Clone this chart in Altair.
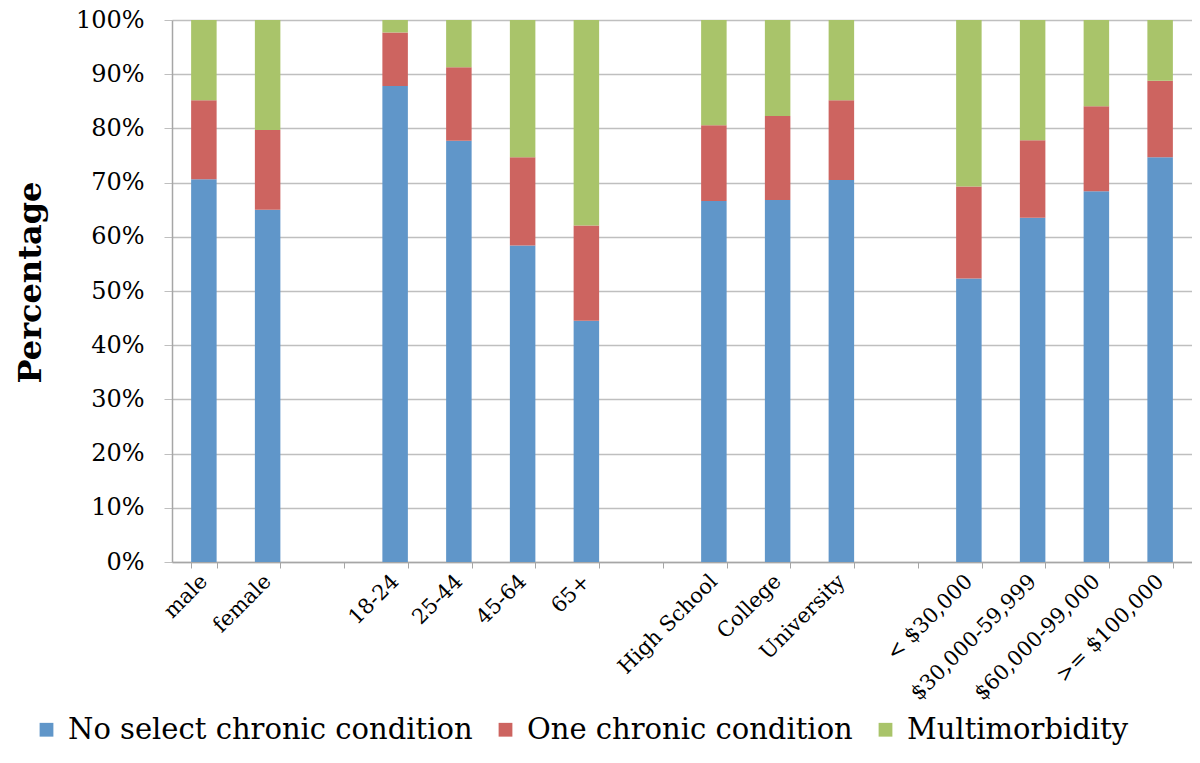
import altair as alt
import pandas as pd

categories = ["male", "female", " ", "18-24", "25-44", "45-64", "65+", "  ",
              "High School", "College", "University", "   ",
              "< $30,000", "$30,000-59,999", "$60,000-99,000", ">= $100,000"]
bar_cats = ["male", "female", "18-24", "25-44", "45-64", "65+",
            "High School", "College", "University",
            "< $30,000", "$30,000-59,999", "$60,000-99,000", ">= $100,000"]
no_condition = [70.6, 65.0, 87.8, 77.7, 58.4, 44.5, 66.6, 66.8, 70.5, 52.3, 63.5, 68.4, 74.7]
one_condition = [14.6, 14.7, 9.9, 13.6, 16.3, 17.6, 14.0, 15.5, 14.7, 17.0, 14.3, 15.7, 14.1]
multimorbidity = [14.8, 20.3, 2.3, 8.7, 25.3, 37.9, 19.4, 17.7, 14.8, 30.7, 22.2, 15.9, 11.2]
series = ["No select chronic condition", "One chronic condition", "Multimorbidity"]
colors = ["#6096C9", "#CD6460", "#A9C46A"]

rows = []
for i, c in enumerate(bar_cats):
    for k, (s, vals) in enumerate(zip(series, [no_condition, one_condition, multimorbidity])):
        rows.append({"cat": c, "series": s, "value": vals[i], "idx": k})
df = pd.DataFrame(rows)

FONT = "DejaVu Serif"

chart = alt.Chart(df).mark_bar().encode(
    x=alt.X("cat:N", sort=categories,
            scale=alt.Scale(domain=categories, paddingInner=0.6, paddingOuter=0.3),
            axis=alt.Axis(title=None, labelAngle=-45, labelAlign="right", labelBaseline="middle",
                          labelFont=FONT, labelFontSize=21, labelColor="#000000",
                          labelPadding=10, tickBand="extent", tickSize=6, tickColor="#A6A6A6",
                          domainColor="#A6A6A6", domainWidth=1.5, grid=False, labelOverlap=False)),
    y=alt.Y("value:Q", stack="zero",
            scale=alt.Scale(domain=[0, 100], nice=False),
            axis=alt.Axis(title="Percentage", values=list(range(0, 101, 10)),
                          labelExpr="datum.value + '%'",
                          labelFont=FONT, labelFontSize=24, labelColor="#000000",
                          labelPadding=20, tickSize=8, tickColor="#BFBFBF",
                          domainColor="#A6A6A6", domainWidth=1.5,
                          gridColor="#BFBFBF", gridWidth=1.5,
                          titleFont=FONT, titleFontSize=32, titleFontWeight="bold",
                          titleColor="#000000", titleX=-125, titleY=262)),
    color=alt.Color("series:N", scale=alt.Scale(domain=series, range=colors),
                    legend=alt.Legend(title=None, orient="none", direction="horizontal",
                                      legendX=-140, legendY=695,
                                      symbolType="square", symbolSize=190, symbolStrokeWidth=0,
                                      labelFont=FONT, labelFontSize=29, labelColor="#000000",
                                      labelOffset=7, columnPadding=18, labelLimit=600)),
    order=alt.Order("idx:Q", sort="ascending"),
).properties(
    width=1020, height=542,
    autosize=alt.AutoSizeParams(type="none"),
    padding={"left": 164, "top": 12, "right": 0, "bottom": 188},
).configure_view(stroke=None)

chart.save("out.html", embed_options={"renderer": "svg", "actions": False})
